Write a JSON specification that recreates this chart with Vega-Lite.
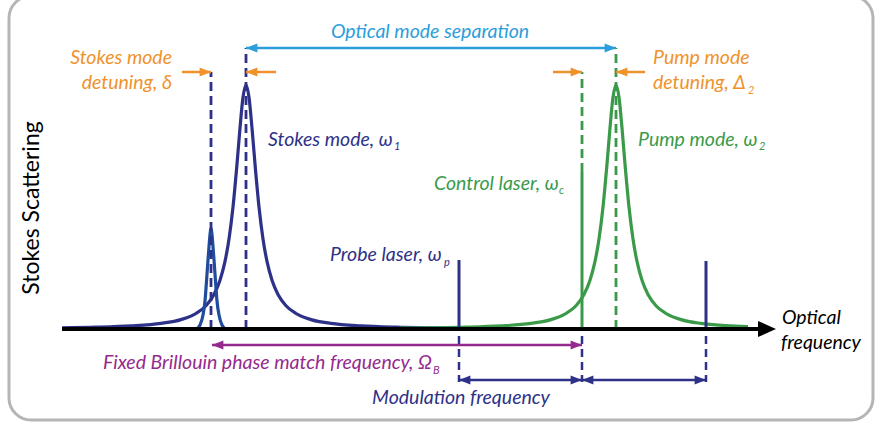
{
  "$schema": "https://vega.github.io/schema/vega-lite/v6.json",
  "width": 875,
  "height": 424,
  "autosize": "none",
  "padding": 0,
  "background": "white",
  "config": {"view": {"stroke": null}, "font": "Lato"},
  "datasets": {
    "curves": [
      {"series": "stokes", "f": 62, "s": 1.2}, {"series": "stokes", "f": 96, "s": 1.8}, {"series": "stokes", "f": 131, "s": 3.1},
      {"series": "stokes", "f": 161, "s": 5.6}, {"series": "stokes", "f": 181, "s": 9.4}, {"series": "stokes", "f": 196, "s": 15.5},
      {"series": "stokes", "f": 206, "s": 23.3}, {"series": "stokes", "f": 214, "s": 34.6}, {"series": "stokes", "f": 220, "s": 48.8},
      {"series": "stokes", "f": 225, "s": 67.6}, {"series": "stokes", "f": 229, "s": 90}, {"series": "stokes", "f": 233, "s": 122},
      {"series": "stokes", "f": 237, "s": 165}, {"series": "stokes", "f": 240, "s": 201}, {"series": "stokes", "f": 243, "s": 231.7},
      {"series": "stokes", "f": 246, "s": 244}, {"series": "stokes", "f": 249, "s": 231.7}, {"series": "stokes", "f": 252, "s": 201},
      {"series": "stokes", "f": 255, "s": 165}, {"series": "stokes", "f": 259, "s": 122}, {"series": "stokes", "f": 263, "s": 90},
      {"series": "stokes", "f": 267, "s": 67.6}, {"series": "stokes", "f": 272, "s": 48.8}, {"series": "stokes", "f": 278, "s": 34.6},
      {"series": "stokes", "f": 286, "s": 23.3}, {"series": "stokes", "f": 296, "s": 15.5}, {"series": "stokes", "f": 311, "s": 9.4},
      {"series": "stokes", "f": 331, "s": 5.6}, {"series": "stokes", "f": 361, "s": 3.1}, {"series": "stokes", "f": 396, "s": 1.8},
      {"series": "stokes", "f": 430, "s": 1.2}, {"series": "stokes", "f": 470, "s": 0.8},
      {"series": "narrow", "f": 197, "s": 0}, {"series": "narrow", "f": 200, "s": 4}, {"series": "narrow", "f": 203, "s": 14},
      {"series": "narrow", "f": 205, "s": 28}, {"series": "narrow", "f": 206.3, "s": 45}, {"series": "narrow", "f": 207.7, "s": 65},
      {"series": "narrow", "f": 209.2, "s": 85}, {"series": "narrow", "f": 210.3, "s": 97}, {"series": "narrow", "f": 211, "s": 101},
      {"series": "narrow", "f": 211.7, "s": 97}, {"series": "narrow", "f": 212.8, "s": 85}, {"series": "narrow", "f": 214.3, "s": 65},
      {"series": "narrow", "f": 215.7, "s": 45}, {"series": "narrow", "f": 217, "s": 28}, {"series": "narrow", "f": 219, "s": 14},
      {"series": "narrow", "f": 222, "s": 4}, {"series": "narrow", "f": 225, "s": 0},
      {"series": "pump", "f": 400, "s": 0.9}, {"series": "pump", "f": 432, "s": 1.2}, {"series": "pump", "f": 466, "s": 1.8},
      {"series": "pump", "f": 501, "s": 3.1}, {"series": "pump", "f": 531, "s": 5.6}, {"series": "pump", "f": 551, "s": 9.4},
      {"series": "pump", "f": 566, "s": 15.5}, {"series": "pump", "f": 576, "s": 23.3}, {"series": "pump", "f": 584, "s": 34.6},
      {"series": "pump", "f": 590, "s": 48.8}, {"series": "pump", "f": 595, "s": 67.6}, {"series": "pump", "f": 599, "s": 90},
      {"series": "pump", "f": 603, "s": 122}, {"series": "pump", "f": 607, "s": 165}, {"series": "pump", "f": 610, "s": 201},
      {"series": "pump", "f": 613, "s": 231.7}, {"series": "pump", "f": 616, "s": 244}, {"series": "pump", "f": 619, "s": 231.7},
      {"series": "pump", "f": 622, "s": 201}, {"series": "pump", "f": 625, "s": 165}, {"series": "pump", "f": 629, "s": 122},
      {"series": "pump", "f": 633, "s": 90}, {"series": "pump", "f": 637, "s": 67.6}, {"series": "pump", "f": 642, "s": 48.8},
      {"series": "pump", "f": 648, "s": 34.6}, {"series": "pump", "f": 656, "s": 23.3}, {"series": "pump", "f": 666, "s": 15.5},
      {"series": "pump", "f": 681, "s": 9.4}, {"series": "pump", "f": 701, "s": 5.6}, {"series": "pump", "f": 726, "s": 3.4},
      {"series": "pump", "f": 748, "s": 2.3}
    ],
    "modeLines": [
      {"series": "stokes", "f": 211, "s": 0, "s2": 257},
      {"series": "stokes", "f": 246, "s": 0, "s2": 281},
      {"series": "pump", "f": 616, "s": 0, "s2": 281},
      {"series": "pump", "f": 582, "s": 157, "s2": 257}
    ],
    "lasers": [
      {"series": "pump", "f": 582, "s": 0, "s2": 157},
      {"series": "stokes", "f": 459, "s": 0, "s2": 69},
      {"series": "stokes", "f": 706, "s": 0, "s2": 68}
    ],
    "markers": [
      {"series": "modulation", "f": 459, "s": -7, "s2": -53},
      {"series": "modulation", "f": 582, "s": -7, "s2": -53},
      {"series": "modulation", "f": 706, "s": -7, "s2": -53}
    ],
    "shafts": [
      {"series": "separation", "f": 246, "f2": 616, "s": 281},
      {"series": "detuning", "f": 182, "f2": 211, "s": 257},
      {"series": "detuning", "f": 246, "f2": 276, "s": 257},
      {"series": "detuning", "f": 553, "f2": 582, "s": 257},
      {"series": "detuning", "f": 616, "f2": 645, "s": 257},
      {"series": "brillouin", "f": 212, "f2": 582, "s": -16},
      {"series": "modulation", "f": 459, "f2": 582, "s": -51},
      {"series": "modulation", "f": 582, "f2": 706, "s": -51}
    ],
    "heads": [
      {"series": "separation", "f": 246, "s": 281, "dir": "left"},
      {"series": "separation", "f": 616, "s": 281, "dir": "right"},
      {"series": "detuning", "f": 211, "s": 257, "dir": "right"},
      {"series": "detuning", "f": 246, "s": 257, "dir": "left"},
      {"series": "detuning", "f": 582, "s": 257, "dir": "right"},
      {"series": "detuning", "f": 616, "s": 257, "dir": "left"},
      {"series": "brillouin", "f": 212, "s": -16, "dir": "left"},
      {"series": "brillouin", "f": 582, "s": -16, "dir": "right"},
      {"series": "modulation", "f": 459, "s": -51, "dir": "left"},
      {"series": "modulation", "f": 582, "s": -51, "dir": "right"},
      {"series": "modulation", "f": 582, "s": -51, "dir": "left"},
      {"series": "modulation", "f": 706, "s": -51, "dir": "right"}
    ],
    "labelsStart": [
      {"series": "stokes", "f": 268, "s": 189, "label": "Stokes mode, ω"},
      {"series": "pump", "f": 638, "s": 189, "label": "Pump mode, ω"},
      {"series": "pump", "f": 434, "s": 145, "label": "Control laser, ω"},
      {"series": "stokes", "f": 330, "s": 74, "label": "Probe laser, ω"},
      {"series": "brillouin", "f": 103, "s": -34, "label": "Fixed Brillouin phase match frequency, Ω"},
      {"series": "detuning", "f": 653, "s": 271, "label": "Pump mode"},
      {"series": "detuning", "f": 653, "s": 246, "label": "detuning, Δ"},
      {"series": "axis", "f": 782, "s": 11, "label": "Optical"},
      {"series": "axis", "f": 781, "s": -14, "label": "frequency"}
    ],
    "labelsEnd": [
      {"series": "detuning", "f": 172, "s": 271, "label": "Stokes mode"},
      {"series": "detuning", "f": 172, "s": 246, "label": "detuning, δ"}
    ],
    "labelsMiddle": [
      {"series": "separation", "f": 430, "s": 297, "label": "Optical mode separation"},
      {"series": "modulation", "f": 461, "s": -69, "label": "Modulation frequency"}
    ],
    "subscripts": [
      {"series": "stokes", "f": 394, "s": 182, "label": "1"},
      {"series": "pump", "f": 759, "s": 182, "label": "2"},
      {"series": "pump", "f": 559, "s": 138, "label": "c"},
      {"series": "stokes", "f": 444, "s": 66, "label": "p"},
      {"series": "brillouin", "f": 433, "s": -42, "label": "B"},
      {"series": "detuning", "f": 748, "s": 238, "label": "2"}
    ],
    "yTitle": [
      {"series": "axis", "f": 32, "s": 121, "label": "Stokes Scattering"}
    ],
    "frame": [
      {"f": 9, "f2": 873, "s": 333, "s2": -91}
    ],
    "axisLine": [
      {"series": "axis", "f": 62, "f2": 768, "s": 0}
    ],
    "axisHead": [
      {"series": "axis", "f": 776, "s": 0}
    ]
  },
  "layer": [
    {
      "data": {"name": "frame"},
      "mark": {"type": "rect", "fill": "transparent", "stroke": "#b5b5b5", "strokeWidth": 3, "cornerRadius": 22},
      "encoding": {
        "x": {"field": "f", "type": "quantitative", "scale": {"domain": [0, 875], "nice": false, "zero": false}, "axis": null},
        "x2": {"field": "f2"},
        "y": {"field": "s", "type": "quantitative", "scale": {"domain": [-95, 329], "nice": false, "zero": false}, "axis": null},
        "y2": {"field": "s2"}
      }
    },
    {
      "data": {"name": "curves"},
      "mark": {"type": "line", "strokeWidth": 3.2, "interpolate": "monotone"},
      "encoding": {
        "x": {"field": "f", "type": "quantitative"},
        "y": {"field": "s", "type": "quantitative"},
        "detail": {"field": "series"},
        "color": {"field": "series", "type": "nominal", "legend": null,
          "scale": {"domain": ["stokes", "narrow", "pump", "axis", "separation", "detuning", "brillouin", "modulation"],
                    "range": ["#2e3188", "#1f4c9c", "#3a9a4a", "#000000", "#2b9edb", "#ef922c", "#952a8e", "#2e3188"]}}
      }
    },
    {
      "data": {"name": "modeLines"},
      "mark": {"type": "rule", "strokeWidth": 2.8, "strokeDash": [9, 5]},
      "encoding": {
        "x": {"field": "f", "type": "quantitative"},
        "y": {"field": "s", "type": "quantitative"},
        "y2": {"field": "s2"},
        "color": {"field": "series", "type": "nominal", "legend": null}
      }
    },
    {
      "data": {"name": "lasers"},
      "mark": {"type": "rule", "strokeWidth": 3},
      "encoding": {
        "x": {"field": "f", "type": "quantitative"},
        "y": {"field": "s", "type": "quantitative"},
        "y2": {"field": "s2"},
        "color": {"field": "series", "type": "nominal", "legend": null}
      }
    },
    {
      "data": {"name": "markers"},
      "mark": {"type": "rule", "strokeWidth": 2.5, "strokeDash": [8, 5]},
      "encoding": {
        "x": {"field": "f", "type": "quantitative"},
        "y": {"field": "s", "type": "quantitative"},
        "y2": {"field": "s2"},
        "color": {"field": "series", "type": "nominal", "legend": null}
      }
    },
    {
      "data": {"name": "shafts"},
      "mark": {"type": "rule", "strokeWidth": 2.5},
      "encoding": {
        "x": {"field": "f", "type": "quantitative"},
        "x2": {"field": "f2"},
        "y": {"field": "s", "type": "quantitative"},
        "color": {"field": "series", "type": "nominal", "legend": null}
      }
    },
    {
      "data": {"name": "heads"},
      "transform": [{"filter": "datum.dir === 'right'"}],
      "mark": {"type": "point", "shape": "M0,0L-2,-0.8L-2,0.8Z", "filled": true, "opacity": 1, "size": 130, "strokeWidth": 0},
      "encoding": {
        "x": {"field": "f", "type": "quantitative"},
        "y": {"field": "s", "type": "quantitative"},
        "color": {"field": "series", "type": "nominal", "legend": null}
      }
    },
    {
      "data": {"name": "heads"},
      "transform": [{"filter": "datum.dir === 'left'"}],
      "mark": {"type": "point", "shape": "M0,0L2,-0.8L2,0.8Z", "filled": true, "opacity": 1, "size": 130, "strokeWidth": 0},
      "encoding": {
        "x": {"field": "f", "type": "quantitative"},
        "y": {"field": "s", "type": "quantitative"},
        "color": {"field": "series", "type": "nominal", "legend": null}
      }
    },
    {
      "data": {"name": "axisLine"},
      "mark": {"type": "rule", "strokeWidth": 4},
      "encoding": {
        "x": {"field": "f", "type": "quantitative"},
        "x2": {"field": "f2"},
        "y": {"field": "s", "type": "quantitative"},
        "color": {"field": "series", "type": "nominal", "legend": null}
      }
    },
    {
      "data": {"name": "axisHead"},
      "mark": {"type": "point", "shape": "M0,0L-2,-0.9L-2,0.9Z", "filled": true, "opacity": 1, "size": 324, "strokeWidth": 0},
      "encoding": {
        "x": {"field": "f", "type": "quantitative"},
        "y": {"field": "s", "type": "quantitative"},
        "color": {"field": "series", "type": "nominal", "legend": null}
      }
    },
    {
      "data": {"name": "labelsStart"},
      "mark": {"type": "text", "align": "left", "baseline": "middle", "fontSize": 19.5, "fontStyle": "italic"},
      "encoding": {
        "x": {"field": "f", "type": "quantitative"},
        "y": {"field": "s", "type": "quantitative"},
        "text": {"field": "label"},
        "color": {"field": "series", "type": "nominal", "legend": null}
      }
    },
    {
      "data": {"name": "labelsEnd"},
      "mark": {"type": "text", "align": "right", "baseline": "middle", "fontSize": 19.5, "fontStyle": "italic"},
      "encoding": {
        "x": {"field": "f", "type": "quantitative"},
        "y": {"field": "s", "type": "quantitative"},
        "text": {"field": "label"},
        "color": {"field": "series", "type": "nominal", "legend": null}
      }
    },
    {
      "data": {"name": "labelsMiddle"},
      "mark": {"type": "text", "align": "center", "baseline": "middle", "fontSize": 19.5, "fontStyle": "italic"},
      "encoding": {
        "x": {"field": "f", "type": "quantitative"},
        "y": {"field": "s", "type": "quantitative"},
        "text": {"field": "label"},
        "color": {"field": "series", "type": "nominal", "legend": null}
      }
    },
    {
      "data": {"name": "subscripts"},
      "mark": {"type": "text", "align": "left", "baseline": "middle", "fontSize": 11, "fontStyle": "italic"},
      "encoding": {
        "x": {"field": "f", "type": "quantitative"},
        "y": {"field": "s", "type": "quantitative"},
        "text": {"field": "label"},
        "color": {"field": "series", "type": "nominal", "legend": null}
      }
    },
    {
      "data": {"name": "yTitle"},
      "mark": {"type": "text", "align": "center", "baseline": "middle", "fontSize": 23, "angle": 270},
      "encoding": {
        "x": {"field": "f", "type": "quantitative"},
        "y": {"field": "s", "type": "quantitative"},
        "text": {"field": "label"},
        "color": {"field": "series", "type": "nominal", "legend": null}
      }
    }
  ]
}
